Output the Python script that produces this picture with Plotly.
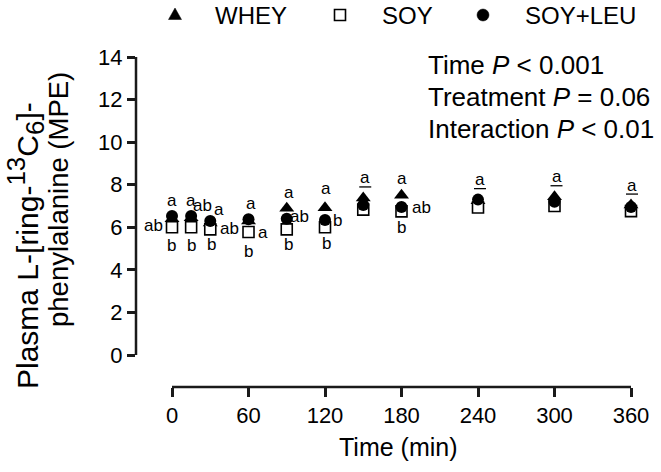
import plotly.graph_objects as go

# ---- data ----
times = [0, 15, 30, 60, 90, 120, 150, 180, 240, 300, 360]
whey = [6.4, 6.45, 6.2, 6.3, 6.9, 6.92, 7.38, 7.5, 7.25, 7.43, 7.05]
soy = [6.0, 6.0, 5.9, 5.78, 5.9, 6.0, 6.83, 6.75, 6.93, 7.0, 6.76]
soy_leu = [6.53, 6.53, 6.3, 6.38, 6.4, 6.34, 7.05, 6.95, 7.3, 7.2, 6.95]

series_names = ["WHEY", "SOY", "SOY+LEU"]
x_ticks = [0, 60, 120, 180, 240, 300, 360]
y_ticks = [0, 2, 4, 6, 8, 10, 12, 14]

stats_lines = ["Time <i>P</i> < 0.001", "Treatment <i>P</i> = 0.06", "Interaction <i>P</i> < 0.01"]

# significance letters: (time, text, underlined)
letters = [
    (0, "ab", False), (0, "a", False), (0, "b", False),
    (15, "a", False), (15, "ab", False), (15, "b", False),
    (30, "a", False), (30, "ab", False), (30, "b", False),
    (60, "a", False), (60, "a", False), (60, "b", False),
    (90, "a", False), (90, "ab", False), (90, "b", False),
    (120, "a", False), (120, "b", False), (120, "b", False),
    (150, "a", True),
    (180, "a", False), (180, "ab", False), (180, "b", False),
    (240, "a", True),
    (300, "a", True),
    (360, "a", True),
]

# ---- layout / placement (pixels) ----
letter_offsets = [
    (-19, -9), (0, 16), (-1, -29),
    (0, 16), (11, 11), (0, -29),
    (9, 11), (19, -8), (1, -24),
    (2, 16), (14, -13), (0, -32),
    (2, 26), (13, 2), (2, -26),
    (1, 32), (12, 0), (1, -23),
    (2, 27),
    (0, 29), (20, 0), (0, -20),
    (2, 20),
    (2, 25),
    (1, 22),
]
W, H = 661, 472
ML, MR, MT, MB = 136, 11, 40, 85
PW, PH = W - ML - MR, H - MT - MB


def px(xp):
    return (xp - ML) / PW


def py(yp):
    return (H - MB - yp) / PH


legend_marker_x = [175, 340, 483]
legend_text_x = [213, 380, 523]
legend_y = 15

FONT = "Liberation Sans, Arial, sans-serif"
AXC = "#1a1a1a"
styles = [
    dict(symbol="triangle-up", size=13, color="black"),
    dict(symbol="square", size=11, color="white", line=dict(color="black", width=1.6)),
    dict(symbol="circle", size=12, color="black"),
]

fig = go.Figure()
for name, vals, st in zip(series_names, [whey, soy, soy_leu], styles):
    fig.add_trace(go.Scatter(x=times, y=vals, mode="markers", name=name,
                             marker=st, cliponaxis=False, showlegend=False))

lookup = dict(zip(times, soy_leu))
annotations = []
shapes = []
for (t, txt, ul), (dx, dy) in zip(letters, letter_offsets):
    annotations.append(dict(x=t, y=lookup[t], xref="x", yref="y", text=txt,
                            showarrow=False, xshift=dx, yshift=dy,
                            font=dict(size=17, color="black", family=FONT)))
    if ul:
        shapes.append(dict(type="line", xref="x", yref="y",
                           xsizemode="pixel", ysizemode="pixel",
                           xanchor=t, yanchor=lookup[t],
                           x0=dx - 6, x1=dx + 6, y0=dy - 9, y1=dy - 9,
                           line=dict(color="black", width=1.3)))

# legend keys (pixel-sized shapes) and labels
lyp = py(legend_y)
shapes.append(dict(type="path", xref="paper", yref="paper", xsizemode="pixel", ysizemode="pixel",
                   xanchor=px(legend_marker_x[0]), yanchor=lyp,
                   path="M -6.5,-4.5 L 6.5,-4.5 L 0,7 Z",
                   fillcolor="black", line=dict(color="black", width=0.5)))
shapes.append(dict(type="rect", xref="paper", yref="paper", xsizemode="pixel", ysizemode="pixel",
                   xanchor=px(legend_marker_x[1]), yanchor=lyp,
                   x0=-5.5, x1=5.5, y0=-5.5, y1=5.5,
                   fillcolor="white", line=dict(color="black", width=1.6)))
shapes.append(dict(type="circle", xref="paper", yref="paper", xsizemode="pixel", ysizemode="pixel",
                   xanchor=px(legend_marker_x[2]), yanchor=lyp,
                   x0=-6, x1=6, y0=-6, y1=6,
                   fillcolor="black", line=dict(color="black", width=0.5)))
for name, tx in zip(series_names, legend_text_x):
    annotations.append(dict(x=px(tx), y=lyp, xref="paper", yref="paper",
                            xanchor="left", yanchor="middle", text=name, showarrow=False,
                            font=dict(size=24, color="black", family=FONT)))

# axis lines (offset style)
shapes.append(dict(type="line", xref="x", yref="paper", x0=x_ticks[0], x1=x_ticks[-1],
                   y0=0, y1=0, line=dict(color=AXC, width=2.5)))
shapes.append(dict(type="line", xref="paper", yref="y", x0=0, x1=0,
                   y0=y_ticks[0], y1=y_ticks[-1], line=dict(color=AXC, width=2.5)))

# stats text
stat_y = [65, 97, 129]
for line, sy in zip(stats_lines, stat_y):
    annotations.append(dict(x=px(426), y=py(sy), xref="paper", yref="paper",
                            xanchor="left", yanchor="middle", text=line, showarrow=False,
                            font=dict(size=26, color="black", family=FONT)))

# y title (two lines)
annotations.append(dict(x=px(25), y=py(246), xref="paper", yref="paper",
                        text="Plasma L-[ring-<sup><span style='font-size:26px'>13</span></sup>C"
                             "<sub><span style='font-size:26px'>6</span></sub>]-",
                        textangle=-90, showarrow=False, xanchor="center", yanchor="middle",
                        font=dict(size=30, color="black", family=FONT)))
annotations.append(dict(x=px(58), y=py(200), xref="paper", yref="paper",
                        text="phenylalanine (MPE)", textangle=-90,
                        showarrow=False, xanchor="center", yanchor="middle",
                        font=dict(size=27.5, color="black", family=FONT)))
# x title
annotations.append(dict(x=px(398), y=py(447), xref="paper", yref="paper",
                        text="Time (min)", showarrow=False, xanchor="center", yanchor="middle",
                        font=dict(size=25, color="black", family=FONT)))

fig.update_layout(
    width=W, height=H,
    showlegend=False,
    margin=dict(l=ML, r=MR, t=MT, b=MB, autoexpand=False),
    paper_bgcolor="white", plot_bgcolor="white",
    font=dict(family=FONT, color="black"),
    xaxis=dict(range=[-28.24, 374.9], tickvals=x_ticks, ticks="outside", ticklen=9,
               tickwidth=2.5, tickcolor=AXC, showline=False, showgrid=False, zeroline=False,
               tickfont=dict(size=22, color="black", family=FONT)),
    yaxis=dict(range=[-1.503, 14.799], tickvals=y_ticks, ticks="outside", ticklen=8,
               tickwidth=2.5, tickcolor=AXC, showline=False, showgrid=False, zeroline=False,
               tickfont=dict(size=22, color="black", family=FONT)),
    annotations=annotations,
    shapes=shapes,
)

fig.write_html("out.html", config={"displayModeBar": False},
               post_script="document.body.style.margin='0px';")
